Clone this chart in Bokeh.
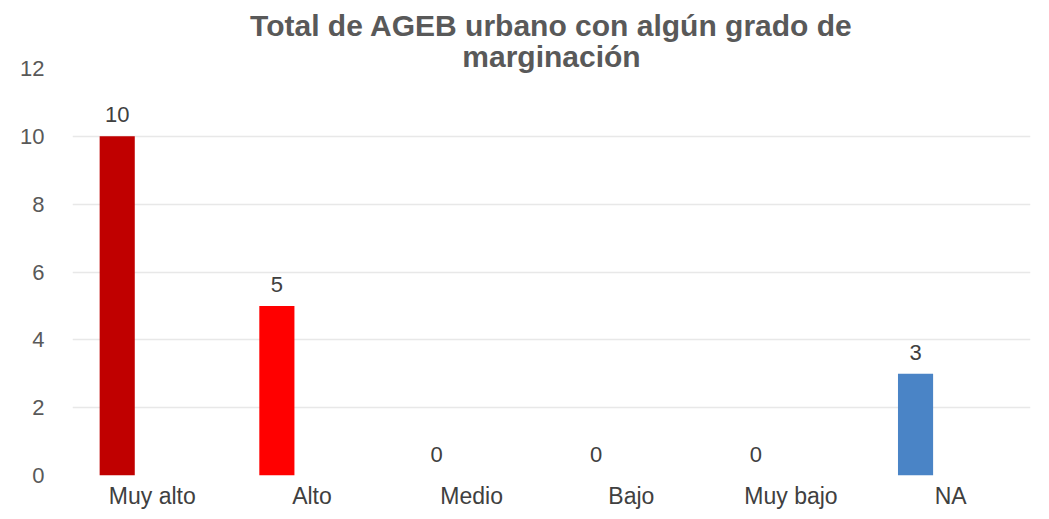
from bokeh.plotting import figure
from bokeh.models import ColumnDataSource, LabelSet, Title
from bokeh.core.properties import value
from bokeh.transform import dodge
from bokeh.embed import file_html
from bokeh.resources import INLINE

categories = ["Muy alto", "Alto", "Medio", "Bajo", "Muy bajo", "NA"]
values = [10, 5, 0, 0, 0, 3]
colors = ["#C00000", "#FF0000", "#C00000", "#C00000", "#C00000", "#4A84C6"]
y_ticks = [0, 2, 4, 6, 8, 10, 12]
title_lines = ["Total de AGEB urbano con algún grado de", "marginación"]

src = ColumnDataSource(dict(cat=categories, val=values, color=colors,
                            lab=[str(v) for v in values]))

p = figure(x_range=categories, y_range=(0, 12), width=1033, height=511,
           output_backend="svg", toolbar_location=None,
           min_border_left=72, min_border_right=3, min_border_top=68, min_border_bottom=0)
p.x_range.range_padding = 0

FONT = "Liberation Sans"
standoffs = [-8, 0]
for line, so in zip(reversed(title_lines), standoffs):
    t = Title(text=line, align="center", text_font=FONT, text_font_size="30px",
              text_font_style="bold", text_color="#595959", standoff=so,
              offset=0)
    p.add_layout(t, "above")
p.title.visible = False

p.vbar(x=dodge("cat", -0.22, range=p.x_range), top="val", width=0.22,
       fill_color="color", line_color=None, source=src)

labels = LabelSet(x=dodge("cat", -0.22, range=p.x_range), y="val", text="lab",
                  source=src, text_align="center", text_baseline="bottom",
                  y_offset=14, text_font=value(FONT), text_font_size="22px",
                  text_color="#404040")
p.add_layout(labels)

p.outline_line_color = None
p.xgrid.grid_line_color = None
p.ygrid.grid_line_color = "#E8E8E8"
p.ygrid.grid_line_width = 1.5
p.yaxis.ticker = y_ticks
for ax in (p.xaxis[0], p.yaxis[0]):
    ax.axis_line_color = None
    ax.major_tick_line_color = None
    ax.minor_tick_line_color = None
    ax.major_tick_out = 0
    ax.major_tick_in = 0
    ax.major_label_text_font = FONT
    ax.major_label_text_font_size = "22px"
    ax.major_label_text_color = "#404040"
p.yaxis.major_label_standoff = 28
p.xaxis.major_label_standoff = 7
p.xaxis.major_label_text_font_size = "23px"
p.yaxis.major_label_text_color = "#595959"

open("out.html", "w").write(file_html(p, INLINE))
